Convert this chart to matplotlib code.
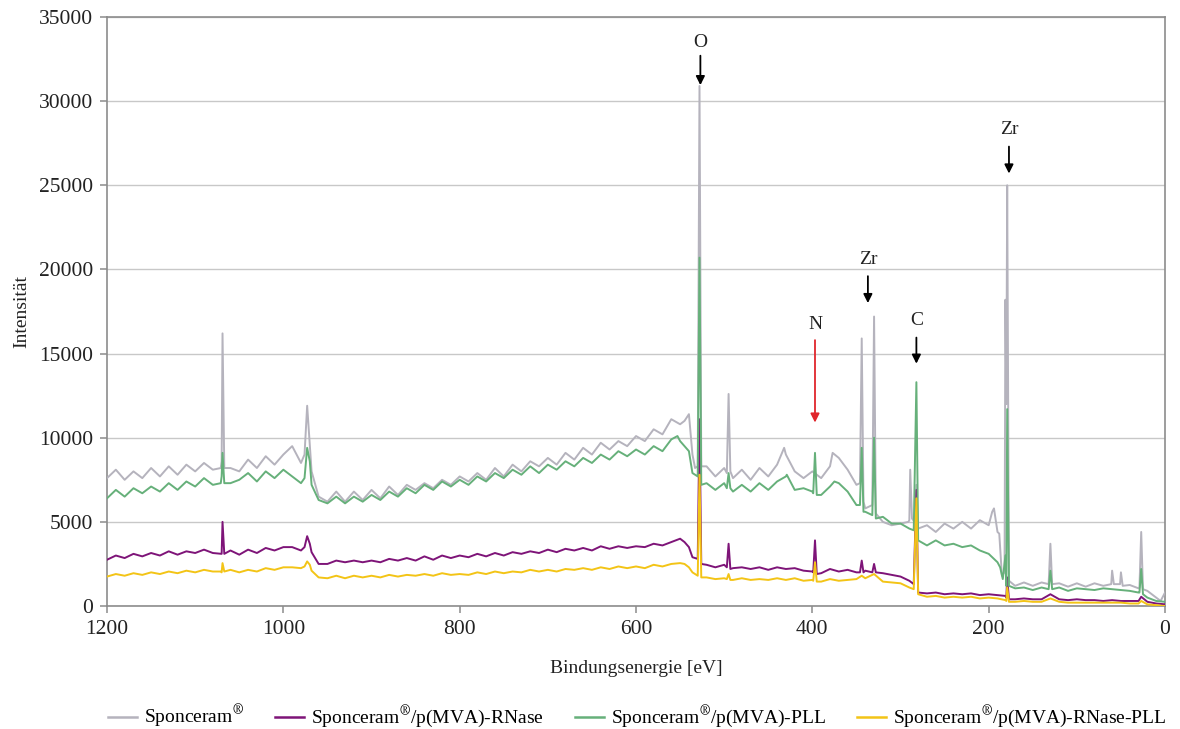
import matplotlib
matplotlib.use("Agg")
import matplotlib.pyplot as plt
from matplotlib.lines import Line2D

plt.rcParams['font.family'] = ['Liberation Serif', 'DejaVu Serif']
plt.rcParams['mathtext.fontset'] = 'stix'

# binding energy grid of the survey scan (eV), 10 eV steps from 1200 down to 0
grid = list(range(1200, -1, -10))

# background counts on the grid, one row per 100 eV
sponceram_bg = [
    7600, 8100, 7500, 8000, 7600, 8200, 7700, 8300, 7800, 8400,
    8000, 8500, 8100, 8600, 8200, 8000, 8700, 8200, 8900, 8400,
    9000, 9500, 8500, 9600, 6500, 6200, 6800, 6200, 6800, 6300,
    6900, 6400, 7100, 6600, 7200, 6900, 7300, 7000, 7500, 7200,
    7700, 7400, 7900, 7500, 8200, 7700, 8400, 8000, 8600, 8300,
    8800, 8400, 9100, 8700, 9400, 9000, 9700, 9300, 9800, 9500,
    10100, 9800, 10500, 10200, 11100, 10800, 11400, 8300, 8300, 7700,
    8200, 7600, 8100, 7500, 8200, 7700, 8400, 9000, 8000, 7600,
    8000, 7600, 8300, 8800, 8100, 7200, 5800, 5600, 5000, 4800,
    4900, 5100, 4500, 4800, 4400, 4900, 4600, 5000, 4600, 5100,
    4800, 4400, 1400, 1200, 1400, 1200, 1400, 1150, 1350, 1150,
    1350, 1150, 1350, 1200, 1300, 1200, 1250, 1050, 900, 500,
    800,
]
rnase_bg = [
    2750, 3000, 2850, 3100, 2950, 3150, 3000, 3250, 3050, 3250,
    3150, 3350, 3150, 3100, 3300, 3050, 3350, 3150, 3450, 3300,
    3500, 3500, 3300, 3700, 2500, 2500, 2700, 2600, 2700, 2600,
    2700, 2600, 2800, 2700, 2850, 2700, 2950, 2750, 3000, 2850,
    3000, 2900, 3100, 2950, 3150, 3000, 3200, 3100, 3250, 3150,
    3350, 3200, 3400, 3300, 3450, 3300, 3550, 3400, 3550, 3450,
    3550, 3500, 3700, 3600, 3800, 4000, 3500, 2800, 2450, 2300,
    2450, 2250, 2300, 2200, 2300, 2150, 2300, 2200, 2250, 2100,
    2050, 1950, 2200, 2050, 2150, 2000, 2100, 2100, 1950, 1850,
    1750, 1500, 800, 750, 800, 700, 750, 700, 750, 650,
    700, 650, 500, 400, 450, 400, 400, 350, 400, 350,
    400, 350, 350, 300, 350, 300, 300, 300, 250, 150,
    100,
]
pll_bg = [
    6400, 6900, 6500, 7000, 6700, 7100, 6800, 7300, 6900, 7400,
    7100, 7600, 7200, 7700, 7300, 7500, 7900, 7400, 8000, 7600,
    8100, 7700, 7300, 8600, 6300, 6100, 6500, 6100, 6500, 6200,
    6600, 6300, 6800, 6500, 7000, 6700, 7200, 6900, 7400, 7100,
    7500, 7200, 7700, 7400, 7900, 7600, 8100, 7800, 8300, 7900,
    8400, 8100, 8600, 8300, 8800, 8500, 9000, 8700, 9200, 8900,
    9300, 9000, 9500, 9200, 9900, 9800, 9200, 7700, 7300, 6900,
    7300, 6800, 7200, 6800, 7300, 6900, 7400, 7700, 6900, 7000,
    6800, 6600, 7100, 7300, 6800, 6000, 5600, 5400, 5300, 4900,
    4900, 4600, 3800, 3600, 3900, 3600, 3700, 3500, 3600, 3300,
    3100, 2600, 1200, 1050, 1100, 950, 1100, 950, 1100, 900,
    1050, 1000, 950, 1050, 1000, 950, 900, 800, 500, 300,
    250,
]
rnase_pll_bg = [
    1750, 1900, 1800, 1950, 1850, 2000, 1900, 2050, 1950, 2100,
    2000, 2150, 2050, 2000, 2150, 2000, 2150, 2050, 2250, 2150,
    2300, 2300, 2250, 2450, 1700, 1650, 1800, 1650, 1800, 1700,
    1800, 1700, 1850, 1750, 1850, 1800, 1900, 1800, 1950, 1850,
    1900, 1850, 2000, 1900, 2050, 1950, 2050, 2000, 2150, 2050,
    2150, 2050, 2200, 2150, 2250, 2150, 2300, 2200, 2350, 2250,
    2350, 2250, 2450, 2350, 2500, 2550, 2300, 1800, 1700, 1600,
    1650, 1550, 1650, 1550, 1600, 1550, 1650, 1550, 1650, 1500,
    1550, 1450, 1600, 1500, 1550, 1600, 1650, 1550, 1450, 1400,
    1350, 1100, 600, 550, 600, 500, 550, 500, 550, 450,
    500, 450, 300, 250, 300, 250, 250, 200, 250, 200,
    200, 200, 200, 200, 200, 200, 150, 150, 100, 50,
    0,
]

# photoelectron lines and edges: (binding energy, counts)
sponceram_peaks = [
    (1071, 8200), (1069, 16200), (1067, 8200),
    (976, 9000), (973, 11900), (968, 8000),
    (545, 11000), (536, 9000), (533, 8200),
    (528, 30900), (526, 8300),
    (497, 7900), (495, 12600), (493, 8000),
    (432, 9400), (377, 9100),
    (346, 7300), (344, 15900), (342, 6200),
    (332, 6000), (330, 17200), (328, 5500),
    (291, 5000), (289, 8100), (287, 5200),
    (284, 5000), (282, 7200), (280, 4600),
    (196, 5600), (194, 5800), (188, 4300), (185, 1800),
    (182, 2000), (181, 18200), (180, 12000), (179, 25000), (177, 1500),
    (132, 1300), (130, 3700), (128, 1300),
    (61, 1300), (60, 2100), (58, 1300),
    (51, 1300), (50, 2000), (48, 1200),
    (29, 1100), (27, 4400), (25, 1000),
    (5, 300), (2, 600),
]
rnase_peaks = [
    (1071, 3100), (1069, 5000), (1067, 3100),
    (976, 3500), (973, 4150), (968, 3200),
    (545, 3800), (536, 2900),
    (528, 11100), (526, 2500),
    (497, 2300), (495, 3700), (493, 2200),
    (399, 2000), (397, 3900), (395, 1900),
    (346, 2000), (344, 2700), (342, 2000),
    (332, 2000), (330, 2500), (328, 2000),
    (285, 1300), (282, 6900), (280, 800),
    (181, 600), (179, 1700), (177, 400),
    (130, 700), (27, 550),
]
pll_peaks = [
    (1071, 7300), (1069, 9100), (1067, 7300),
    (976, 7600), (973, 9400), (968, 7200),
    (553, 10100), (545, 9500), (536, 7900),
    (528, 20700), (526, 7200),
    (497, 7000), (495, 7900), (493, 7000),
    (429, 7800),
    (399, 6700), (397, 9100), (395, 6600),
    (375, 7400),
    (346, 6000), (344, 9400), (342, 5600),
    (332, 5400), (330, 10000), (328, 5200),
    (285, 4500), (282, 13300), (280, 3900),
    (187, 2300), (184, 1600), (181, 3000), (179, 11700), (177, 1200),
    (132, 1000), (130, 2100), (128, 1000),
    (29, 800), (27, 2200), (25, 700),
]
rnase_pll_peaks = [
    (1071, 2050), (1069, 2550), (1067, 2050),
    (976, 2350), (973, 2650), (968, 2100),
    (545, 2500), (536, 2000),
    (528, 7800), (526, 1700),
    (497, 1600), (495, 1900), (493, 1550),
    (399, 1500), (397, 2600), (395, 1450),
    (344, 1800), (330, 1900),
    (285, 1000), (282, 6400), (280, 700),
    (181, 350), (179, 1100), (177, 250),
    (130, 450), (27, 300),
]

labels = [
    r'Sponceram$^{\circledR}$',
    r'Sponceram$^{\circledR}$/p(MVA)-RNase',
    r'Sponceram$^{\circledR}$/p(MVA)-PLL',
    r'Sponceram$^{\circledR}$/p(MVA)-RNase-PLL',
]
colors = ['#b5b3bd', '#7e1478', '#66b07a', '#f3c416']

# element labels: (text, energy, text height, arrow tail, arrow tip, colour)
markers = [
    ('O', 527, 33500, 32700, 30950, 'black'),
    ('Zr', 177, 28300, 27300, 25700, 'black'),
    ('Zr', 337, 20600, 19600, 18000, 'black'),
    ('N', 397, 16750, 15800, 10900, '#e0262c'),
    ('C', 282, 16950, 15950, 14400, 'black'),
]


def spectrum(background, peaks):
    pts = dict(zip(grid, background))
    pts.update(peaks)
    e = sorted(pts, reverse=True)
    return e, [pts[k] for k in e]


series = [
    spectrum(sponceram_bg, sponceram_peaks),
    spectrum(rnase_bg, rnase_peaks),
    spectrum(pll_bg, pll_peaks),
    spectrum(rnase_pll_bg, rnase_pll_peaks),
]

fig = plt.figure(figsize=(11.8, 7.29), dpi=100)
ax = fig.add_axes([0.0907, 0.1687, 0.8966, 0.808])

# draw grey first, then green, purple and yellow on top
for i in [0, 2, 1, 3]:
    e, c = series[i]
    ax.plot(e, c, color=colors[i], lw=1.4, zorder=3 + i)

ax.set_xlim(1200, 0)
ax.set_ylim(0, 35000)
ax.set_xticks(range(1200, -1, -200))
ax.set_yticks(range(0, 35001, 5000))
ax.grid(axis='y', color='#c8c8c8', lw=1.0)
ax.set_axisbelow(True)
for sp in ax.spines.values():
    sp.set_color('#8c8c8c')
    sp.set_linewidth(1.2)
ax.tick_params(direction='out', length=5, width=1.1, color='#8c8c8c',
               labelsize=15.5, labelcolor='#222222', pad=5)

ax.set_xlabel('Bindungsenergie [eV]', fontsize=14, color='#222222', labelpad=15)
ax.set_ylabel('Intensität', fontsize=14, color='#222222', labelpad=6)

for txt, x, ty, tail, tip, col in markers:
    ax.text(x, ty, txt, ha='center', va='center', fontsize=14, color='#222222')
    ax.annotate('', xy=(x, tip), xytext=(x, tail),
                arrowprops=dict(arrowstyle='-|>', color=col, lw=1.3,
                                mutation_scale=13, shrinkA=0, shrinkB=0))

handles = [Line2D([], [], color=c, lw=1.8) for c in colors]
fig.legend(handles, labels, loc='lower center', bbox_to_anchor=(0.540, -0.026),
           ncol=4, frameon=False, fontsize=14, handlelength=1.5,
           columnspacing=1.6, handletextpad=0.35)

fig.savefig('out.png', dpi=100)
